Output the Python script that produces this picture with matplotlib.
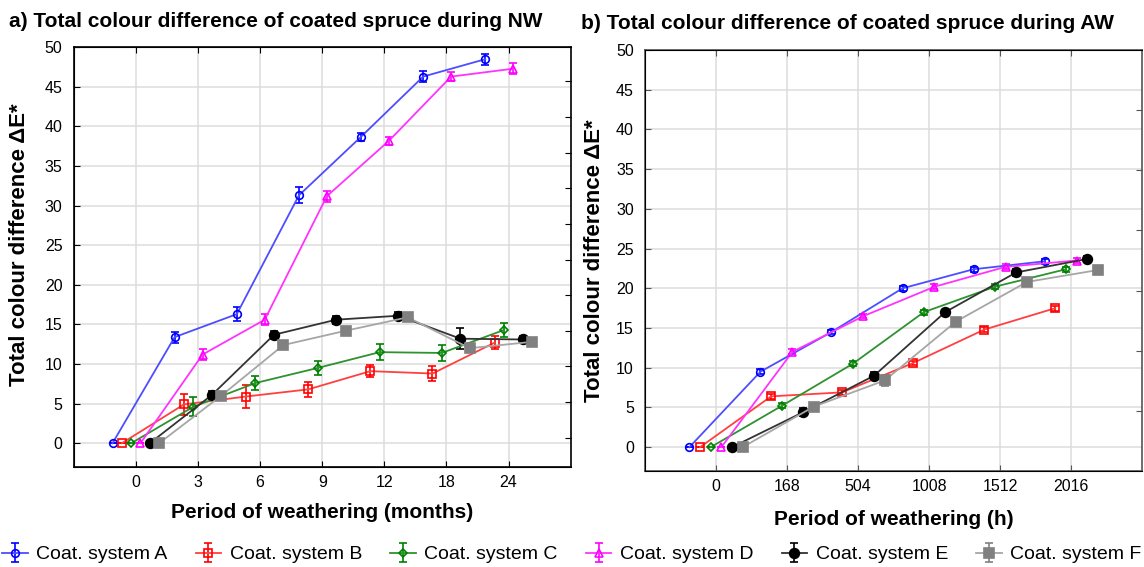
import numpy as np
import matplotlib.pyplot as plt

plt.rcParams['font.family'] = ['Liberation Sans', 'DejaVu Sans']

# period categories
nw_cats = ['0', '3', '6', '9', '12', '18', '24']
aw_cats = ['0', '168', '504', '1008', '1512', '2016']

systems = ['A', 'B', 'C', 'D', 'E', 'F']

# natural weathering (NW) - total colour difference
nw_A = [0, 13.4, 16.3, 31.3, 38.7, 46.3, 48.5]
nw_B = [0, 4.9, 5.9, 6.8, 9.1, 8.8, 12.7]
nw_C = [0, 4.6, 7.6, 9.5, 11.5, 11.4, 14.3]
nw_D = [0, 11.2, 15.6, 31.2, 38.2, 46.3, 47.3]
nw_E = [0, 6.1, 13.7, 15.6, 16.1, 13.2, 13.1]
nw_F = [0, 6.0, 12.4, 14.2, 15.9, 12.0, 12.8]

nw_A_err = [0, 0.7, 0.9, 1.0, 0.5, 0.7, 0.7]
nw_B_err = [0, 1.3, 1.5, 0.9, 0.8, 0.9, 0.8]
nw_C_err = [0, 1.2, 0.9, 0.9, 1.0, 1.0, 0.9]
nw_D_err = [0, 0.7, 0.7, 0.7, 0.5, 0.6, 0.7]
nw_E_err = [0, 0.5, 0.5, 0.5, 0.5, 1.3, 0.5]
nw_F_err = [0, 0.3, 0.3, 0.3, 0.5, 0.3, 0.3]

# artificial weathering (AW)
aw_A = [0, 9.5, 14.5, 20.0, 22.4, 23.4]
aw_B = [0, 6.4, 6.9, 10.6, 14.8, 17.5]
aw_C = [0, 5.2, 10.5, 17.0, 20.2, 22.4]
aw_D = [0, 12.0, 16.5, 20.2, 22.7, 23.5]
aw_E = [0, 4.4, 9.0, 17.0, 22.0, 23.7]
aw_F = [0, 5.1, 8.4, 15.8, 20.8, 22.3]

aw_A_err = [0, 0.3, 0.3, 0.3, 0.3, 0.3]
aw_B_err = [0, 0.3, 0.3, 0.3, 0.3, 0.3]
aw_C_err = [0, 0.3, 0.3, 0.3, 0.3, 0.3]
aw_D_err = [0, 0.3, 0.3, 0.3, 0.3, 0.3]
aw_E_err = [0, 0.5, 0.5, 0.3, 0.4, 0.4]
aw_F_err = [0, 0.3, 0.7, 0.3, 0.3, 0.3]

nw_vals = [nw_A, nw_B, nw_C, nw_D, nw_E, nw_F]
nw_errs = [nw_A_err, nw_B_err, nw_C_err, nw_D_err, nw_E_err, nw_F_err]
aw_vals = [aw_A, aw_B, aw_C, aw_D, aw_E, aw_F]
aw_errs = [aw_A_err, aw_B_err, aw_C_err, aw_D_err, aw_E_err, aw_F_err]

# styles per coat system
line_cols = ['#4d4dff', '#ff4040', '#2e922e', '#ff33ff', '#333333', '#a6a6a6']
mark_cols = ['#0000ff', '#ff0000', '#008000', '#ff00ff', '#000000', '#808080']
markers = ['o', 's', 'D', '^', 'o', 's']
filled = [False, False, False, False, True, True]
msizes = [5.5, 5.5, 4.5, 5.5, 7, 7.5]
offsets = [-0.375, -0.225, -0.075, 0.075, 0.225, 0.375]

fig = plt.figure(figsize=(11.44, 5.67), dpi=100)
fig.set_facecolor('white')

ax1 = fig.add_axes([0.0644, 0.1764, 0.4345, 0.7402])
ax2 = fig.add_axes([0.5638, 0.1693, 0.4347, 0.7425])


def draw(ax, cats, vals, errs, spine_col, right_ticks):
    x = np.arange(len(cats))
    handles = []
    for i in range(6):
        h = ax.errorbar(x + offsets[i], vals[i], yerr=errs[i],
                        color=line_cols[i], ecolor=mark_cols[i],
                        marker=markers[i], markersize=msizes[i],
                        markerfacecolor=mark_cols[i] if filled[i] else 'none',
                        markeredgecolor=mark_cols[i], markeredgewidth=1.2,
                        linewidth=1.3, elinewidth=1.2, capsize=3, capthick=1.2,
                        label='Coat. system ' + systems[i], zorder=3)
        handles.append(h)
    ax.set_xlim(-1, len(cats))
    ax.set_ylim(-3, 50)
    ax.set_xticks(x)
    ax.set_xticklabels(cats)
    ax.set_yticks(np.arange(0, 51, 5))
    ax.grid(True, color='#dcdcdc', linewidth=1.1)
    ax.set_axisbelow(True)
    ax.tick_params(direction='in', top=True, length=4, labelsize=11.5,
                   color=spine_col, pad=6)
    ax.tick_params(axis='y', pad=8)
    for s in ax.spines.values():
        s.set_color(spine_col)
        s.set_linewidth(1.2)
    ax.set_ylabel('Total colour difference ΔE*', fontsize=16,
                  fontweight='bold', labelpad=8)
    tw = ax.twinx()
    tw.set_ylim(-3, 50)
    tw.set_yticks(right_ticks)
    tw.tick_params(direction='in', length=4, labelright=False, color=spine_col)
    tw.spines['right'].set_visible(False)
    return handles


hs = draw(ax1, nw_cats, nw_vals, nw_errs, '#000000', np.arange(45.7, -3, -4.5))
draw(ax2, aw_cats, aw_vals, aw_errs, '#555555', np.arange(4.5, 50, 7.6))

ax1.yaxis.set_label_coords(-0.088, 0.53)

ax1.set_xlabel('Period of weathering (months)', fontsize=15,
               fontweight='bold', labelpad=9)
ax2.set_xlabel('Period of weathering (h)', fontsize=15,
               fontweight='bold', labelpad=11)

fig.text(0.008, 0.962, 'a) Total colour difference of coated spruce during NW',
         fontsize=15, fontweight='bold', va='center')
fig.text(0.508, 0.958, 'b) Total colour difference of coated spruce during AW',
         fontsize=15, fontweight='bold', va='center')

fig.legend(handles=hs, loc='center', bbox_to_anchor=(0.5, 0.022), ncol=6,
           frameon=False, fontsize=14, handlelength=1.3, handletextpad=0.45,
           columnspacing=1.45, borderpad=0)

fig.savefig('out.png', dpi=100)
